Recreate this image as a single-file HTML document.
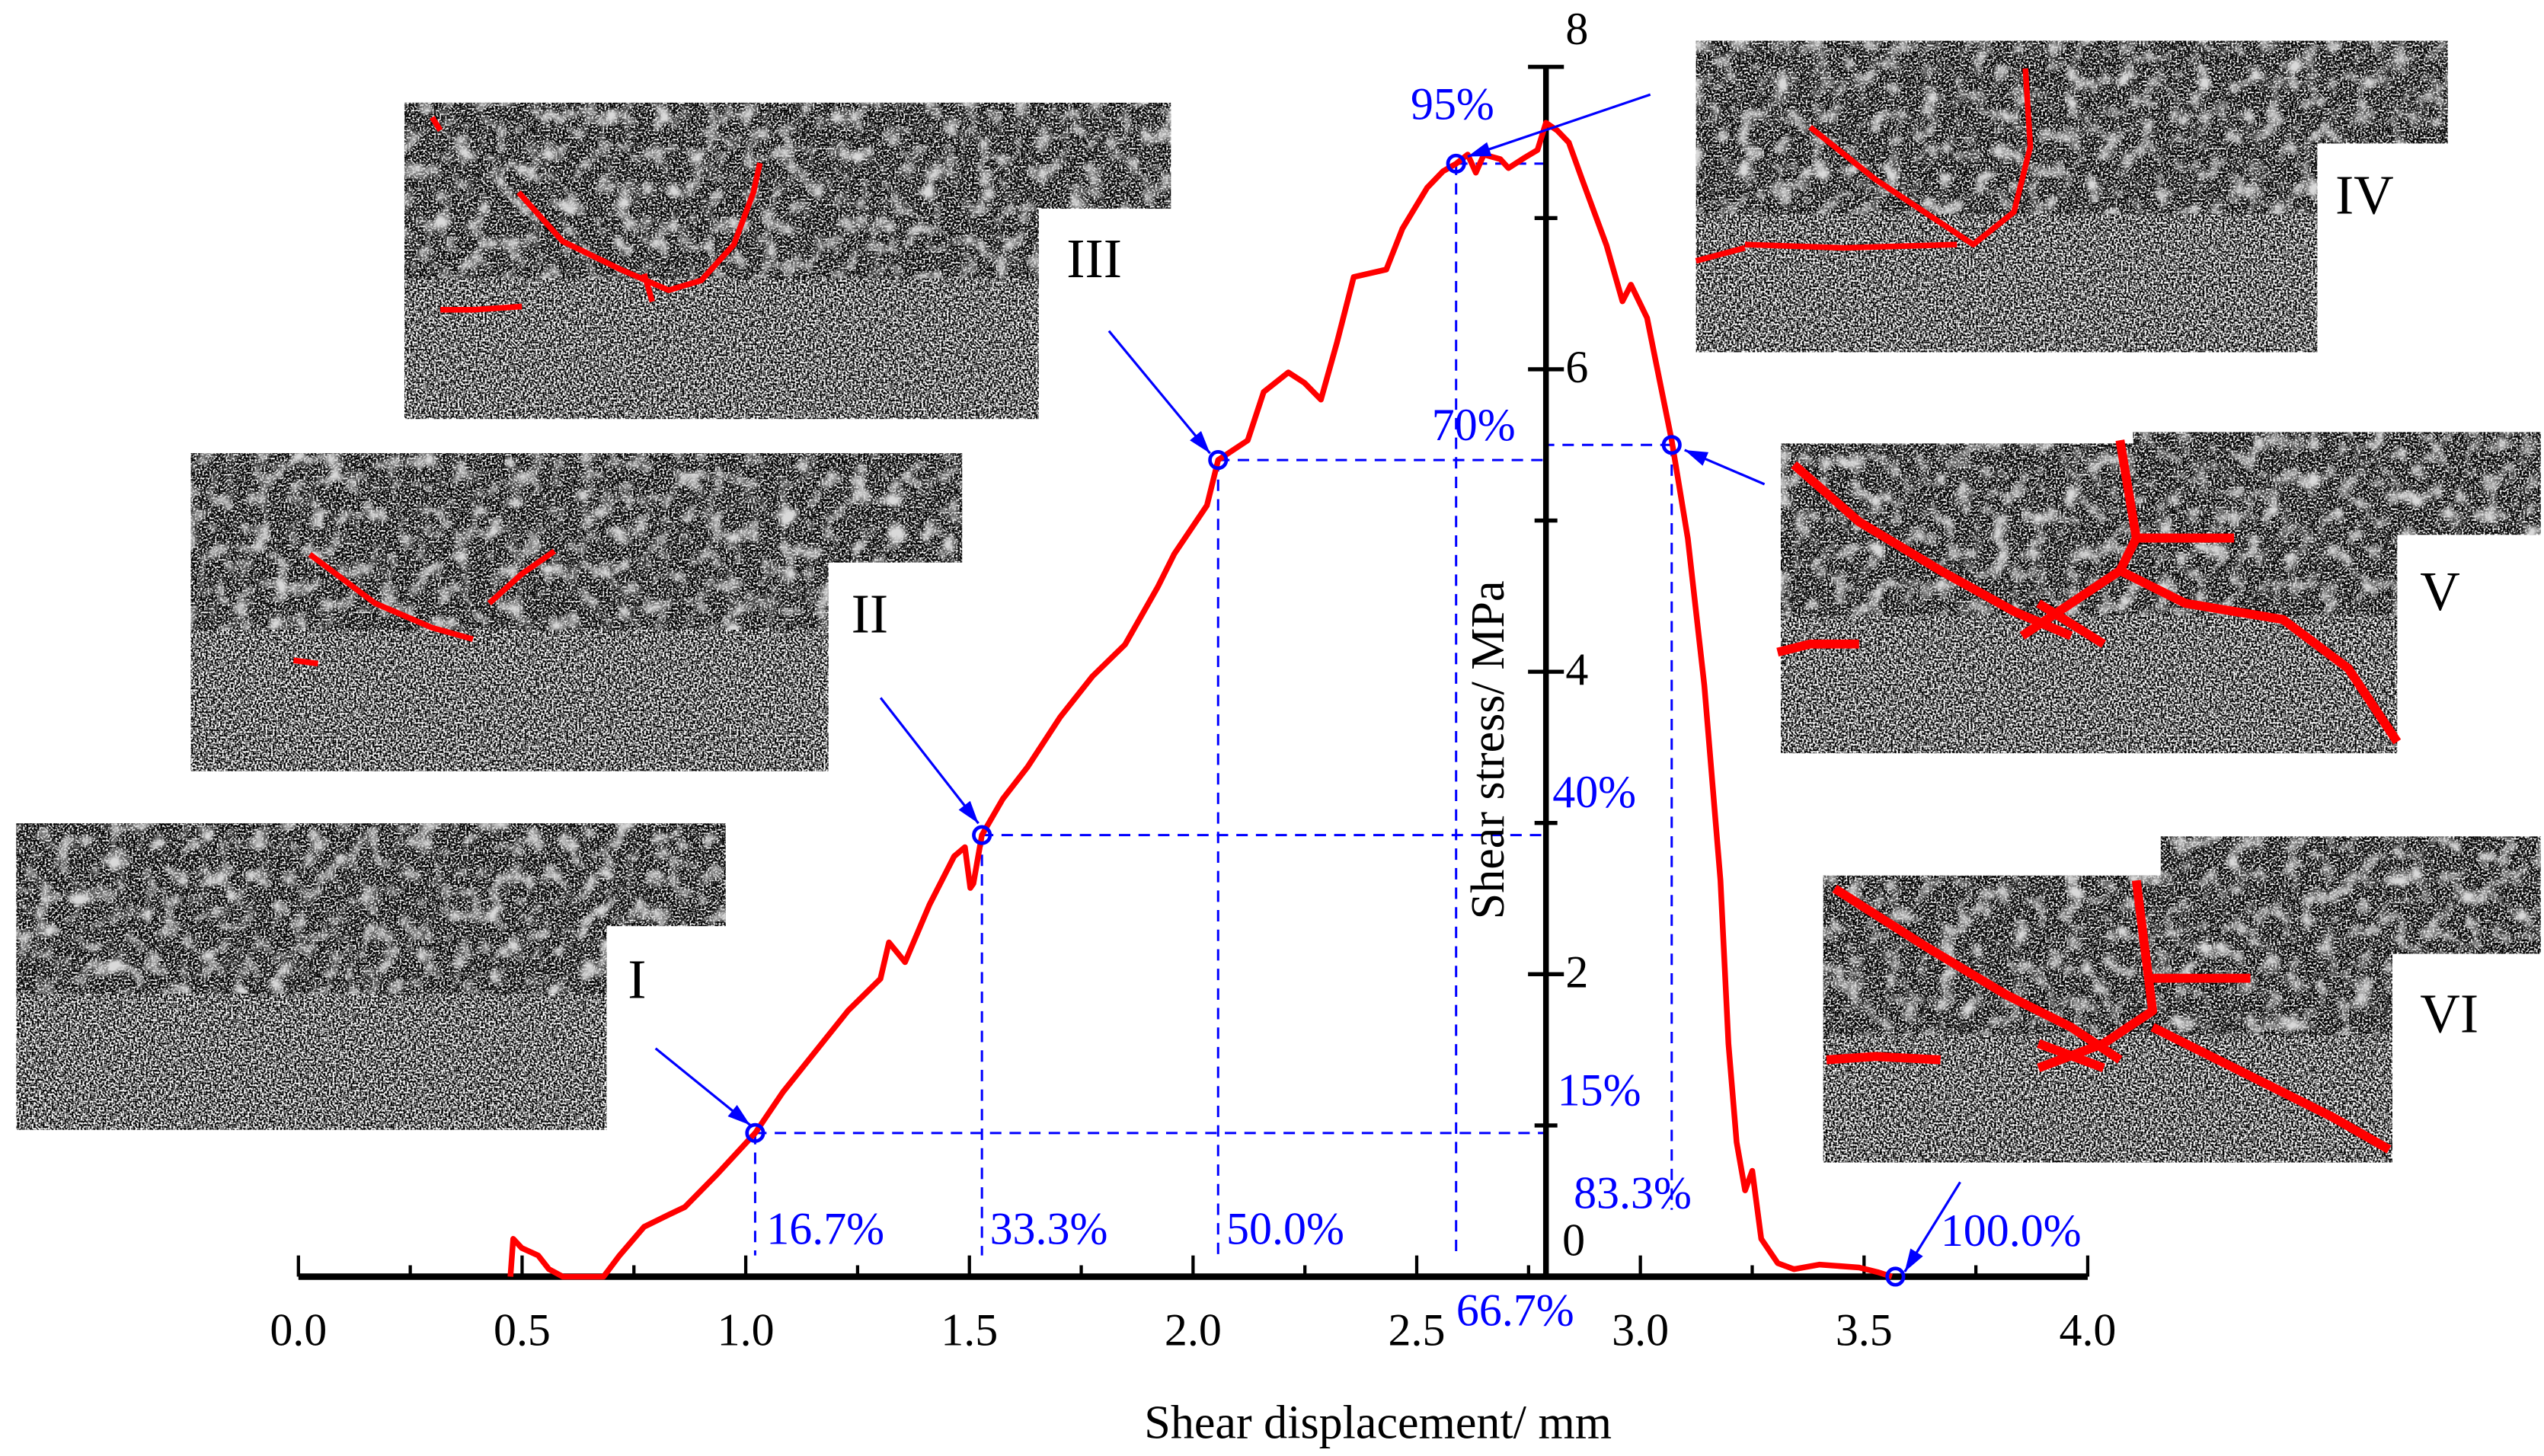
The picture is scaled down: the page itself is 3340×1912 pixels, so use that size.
<!DOCTYPE html>
<html><head><meta charset="utf-8">
<style>
html,body{margin:0;padding:0;background:#fff;}
svg{display:block;}
text{font-family:"Liberation Serif",serif;}
</style></head>
<body>
<svg id="chart" width="3340" height="1912" viewBox="0 0 1560 893" preserveAspectRatio="none" xmlns="http://www.w3.org/2000/svg">
<defs>
<filter id="nfine" x="0" y="0" width="100%" height="100%" color-interpolation-filters="sRGB">
<feTurbulence type="fractalNoise" baseFrequency="0.9" numOctaves="1" seed="3" result="t"/>
<feColorMatrix in="t" type="matrix" values="4 0 0 0 -1.55  4 0 0 0 -1.55  4 0 0 0 -1.55  0 0 0 0 1" result="g"/>
<feComposite in="g" in2="SourceGraphic" operator="in"/>
</filter>
<filter id="ndark" x="0" y="0" width="100%" height="100%" color-interpolation-filters="sRGB">
<feTurbulence type="fractalNoise" baseFrequency="0.9" numOctaves="1" seed="5" result="t"/>
<feColorMatrix in="t" type="matrix" values="4 0 0 0 -1.75  4 0 0 0 -1.75  4 0 0 0 -1.75  0 0 0 0 1" result="g"/>
<feComposite in="g" in2="SourceGraphic" operator="in"/>
</filter>
<filter id="nblob" x="0" y="0" width="100%" height="100%" color-interpolation-filters="sRGB">
<feTurbulence type="fractalNoise" baseFrequency="0.09" numOctaves="2" seed="2" result="b"/>
<feColorMatrix in="b" type="matrix" values="0 0 0 0 0.85  0 0 0 0 0.85  0 0 0 0 0.85  3 0 0 0 -1.45" result="g"/>
<feComposite in="g" in2="SourceGraphic" operator="in"/>
</filter>
</defs>

<g id="panels"></g>

<g id="plot"></g>

<text x="845" y="882" font-size="29" text-anchor="middle">Shear displacement/ mm</text>
<text transform="translate(922,460) rotate(-90)" font-size="29" text-anchor="middle">Shear stress/ MPa</text>

<g font-size="34">
<text x="385" y="612">I</text>
<text x="522" y="388">II</text>
<text x="654" y="170">III</text>
<text x="1432" y="131">IV</text>
<text x="1484" y="374">V</text>
<text x="1484" y="633">VI</text>
</g>

<script>
// ---- data ----
const dispData = [0.474,0.480,0.499,0.536,0.560,0.591,0.682,0.718,0.773,0.828,0.864,0.937,1.021,1.083,1.156,1.229,1.301,1.320,1.356,1.411,1.466,1.490,1.502,1.509,1.528,1.575,1.630,1.703,1.775,1.848,1.921,1.958,2.031,2.056,2.122,2.158,2.213,2.249,2.286,2.322,2.359,2.432,2.468,2.523,2.559,2.588,2.614,2.632,2.650,2.687,2.705,2.742,2.770,2.789,2.814,2.840,2.869,2.924,2.960,2.979,3.015,3.033,3.070,3.106,3.143,3.179,3.197,3.215,3.234,3.250,3.270,3.307,3.343,3.400,3.489,3.530,3.562];
const stressData = [0.0,0.25,0.19,0.14,0.05,0.0,0.0,0.14,0.33,0.41,0.46,0.68,0.95,1.22,1.49,1.76,1.97,2.21,2.08,2.46,2.78,2.84,2.57,2.60,2.92,3.16,3.37,3.70,3.97,4.18,4.56,4.78,5.10,5.40,5.53,5.85,5.98,5.91,5.80,6.18,6.61,6.66,6.93,7.20,7.31,7.36,7.42,7.30,7.42,7.39,7.33,7.40,7.45,7.63,7.58,7.50,7.26,6.82,6.45,6.56,6.34,6.07,5.53,4.88,3.91,2.62,1.54,0.89,0.57,0.70,0.25,0.09,0.05,0.08,0.06,0.03,0.0];
const markerDisp = [1.021,1.528,2.056,2.588,3.070,3.570];
const markerStress = [0.95,2.92,5.40,7.36,5.50,0.0];
const xTicks = [0.0,0.5,1.0,1.5,2.0,2.5,3.0,3.5,4.0];
const xTickLabels = ["0.0","0.5","1.0","1.5","2.0","2.5","3.0","3.5","4.0"];
const yTicks = [0,2,4,6,8];
const yTickLabels = ["0","2","4","6","8"];
const dispPctLabels = ["16.7%","33.3%","50.0%","66.7%","83.3%","100.0%"];
const stressPctLabels = ["15%","40%","70%","95%"];

// ---- axes ----
const X0 = 183, XS = 274.3, Y0 = 783, YS = 92.75, YAX = 948;
function xs(d){ return X0 + XS*d; }
function ys(v){ return Y0 - YS*v; }
const NS = "http://www.w3.org/2000/svg";
function mk(tag, attrs, parent){
  const e = document.createElementNS(NS, tag);
  for (const k in attrs) e.setAttribute(k, attrs[k]);
  parent.appendChild(e);
  return e;
}

// ---- specimen panels ----
const panels = document.getElementById('panels');
const panelDefs = [
  {n:'i', top:[10,505,435,63], main:[10,505,362,188]},
  {n:'ii', top:[117,278,473,67], main:[117,278,391,195]},
  {n:'iii', top:[248,63,470,65], main:[248,63,389,194]},
  {n:'iv', top:[1043,25,458,63], main:[1040,25,381,191]},
  {n:'v', top:[1308,265,250,63], main:[1092,272,378,190]},
  {n:'vi', top:[1325,513,233,72], main:[1118,537,349,176]}
];
panelDefs.forEach(p=>{
  const g = mk('g',{},panels);
  
  
  const f = 0.55;
  const lowY = p.main[1]+p.main[3]*f;
  mk('rect',{x:p.main[0],y:lowY,width:p.main[2],height:p.main[3]*(1-f),fill:'#888',filter:'url(#nfine)'},g);
  [[p.main[0],p.main[1],p.main[2],p.main[3]*f+1],[p.top[0],p.top[1],p.top[2],p.top[3]]].forEach(r=>{
    mk('rect',{x:r[0],y:r[1],width:r[2],height:r[3],fill:'#888',filter:'url(#ndark)'},g);
    mk('rect',{x:r[0],y:r[1],width:r[2],height:r[3],fill:'#888',filter:'url(#nblob)'},g);
  });
});
// cracks
const cracks = [
  "M265,72 L270,80 M318,118 L345,148 L380,165 L410,178 L430,172 L450,150 L462,118 L466,100 M395,168 L400,185 M270,190 L290,190 L320,188",
  "M190,340 L230,370 L265,385 L290,392 M300,370 L320,352 L340,338 M180,405 L195,407",
  "M1110,78 L1150,110 L1180,130 L1210,150 L1235,130 L1245,90 L1242,42 M1070,150 L1130,152 L1200,150 M1040,160 L1070,152",
  "M1100,285 L1140,320 L1190,350 L1235,375 L1270,390 M1300,270 L1305,300 L1310,330 L1300,350 L1270,370 L1240,390 M1310,330 L1370,330 M1300,350 L1340,370 L1400,380 L1440,410 L1470,455 M1090,400 L1110,395 L1140,395 M1250,370 L1290,395",
  "M1125,545 L1180,580 L1230,610 L1270,630 L1300,650 M1310,540 L1315,580 L1320,620 L1290,640 L1250,655 M1320,600 L1380,600 M1320,630 L1380,660 L1430,685 L1465,705 M1120,650 L1150,648 L1190,650 M1250,640 L1290,655"
];
const crackW = [3.5,3.5,3.5,5.5,5.5];
cracks.forEach((d,i)=>{
  const c = mk('path',{d:d,fill:'none',stroke:'#ff0000','stroke-width':crackW[i],'stroke-linejoin':'round'},panels);
  
  
});

// ---- plot ----
const plot = document.getElementById('plot');
const guides = mk('g',{stroke:'#0000ff','stroke-width':1.4,'stroke-dasharray':'7,5',fill:'none'},plot);


markerDisp.forEach((d,i)=>{
  const mx = xs(d), my = ys(markerStress[i]);
  if (i < 5) {
    const v = mk('line',{x1:mx,y1:my,x2:mx,y2:(i==4?742:770)},guides);
    
    
    const h = mk('line',{x1:mx,y1:my,x2:YAX,y2:my},guides);
    
    
  }
});

// x axis
const xa = mk('g',{stroke:'#000',fill:'none'},plot);


mk('line',{x1:xs(0),y1:Y0,x2:xs(4),y2:Y0,'stroke-width':4},xa);
for (let t=0; t<=16; t++){
  const d = t*0.25;
  const major = (t%2==0);
  mk('line',{x1:xs(d),y1:Y0,x2:xs(d),y2:Y0-(major?13:7),'stroke-width':2},xa);
}
xTicks.forEach((d,i)=>{
  const t = mk('text',{x:xs(d),y:Y0+42,'font-size':28,'text-anchor':'middle',fill:'#000',stroke:'none'},plot);
  t.textContent = xTickLabels[i];
  
  
});
// y axis
const ya = mk('g',{stroke:'#000',fill:'none'},plot);


mk('line',{x1:YAX,y1:ys(8),x2:YAX,y2:Y0,'stroke-width':3.5},ya);
for (let t=1; t<=8; t++){
  const major = (t%2==0);
  const w = major?11:7;
  mk('line',{x1:YAX-w,y1:ys(t),x2:YAX+w,y2:ys(t),'stroke-width':2.5},ya);
}
yTicks.forEach((v,i)=>{
  const t = mk('text',{x:YAX+12,y:(v==8?ys(v)-14:ys(v)-4+ (v==0?-9:12)),'font-size':28,'text-anchor':'start',fill:'#000'},plot);
  if (v==0) t.setAttribute('x', YAX+10);
  t.textContent = yTickLabels[i];
  
  
});

// curve
let dstr = '';
dispData.forEach((d,i)=>{ dstr += (i?'L':'M') + xs(d).toFixed(1) + ',' + ys(stressData[i]).toFixed(1) + ' '; });
const curve = mk('path',{d:dstr,fill:'none',stroke:'#ff0000','stroke-width':3.5,'stroke-linejoin':'round'},plot);



// markers
markerDisp.forEach((d,i)=>{
  const c = mk('circle',{cx:xs(d),cy:ys(markerStress[i]),r:5,fill:'none',stroke:'#0000ff','stroke-width':2.2},plot);
  
  
});

// arrows
const arrows = [[402,643,460,690],[540,428,600,505],[680,203,742,278],[1012,58,900,96],[1082,297,1033,276],[1202,725,1168,780]];
arrows.forEach((a,i)=>{
  const g = mk('g',{},plot);
  
  
  mk('line',{x1:a[0],y1:a[1],x2:a[2],y2:a[3],stroke:'#0000ff','stroke-width':1.5},g);
  const ang = Math.atan2(a[3]-a[1], a[2]-a[0]);
  const L=14, W=4.5;
  const bx = a[2]-L*Math.cos(ang), by = a[3]-L*Math.sin(ang);
  const px = -Math.sin(ang)*W, py = Math.cos(ang)*W;
  mk('polygon',{points:`${a[2]},${a[3]} ${bx+px},${by+py} ${bx-px},${by-py}`,fill:'#0000ff'},g);
});

// percent labels
const dispPos = [[470,763],[607,763],[752,763],[893,813],[965,741],[1190,764]];
dispPctLabels.forEach((s,i)=>{
  const t = mk('text',{x:dispPos[i][0],y:dispPos[i][1],'font-size':28,fill:'#0000ff'},plot);
  t.textContent = s;
  
  
});
const stressPos = [[955,678],[952,495],[878,270],[865,73]];
stressPctLabels.forEach((s,i)=>{
  const t = mk('text',{x:stressPos[i][0],y:stressPos[i][1],'font-size':28,fill:'#0000ff'},plot);
  t.textContent = s;
  
  
});
</script>
</svg>
</body></html>
